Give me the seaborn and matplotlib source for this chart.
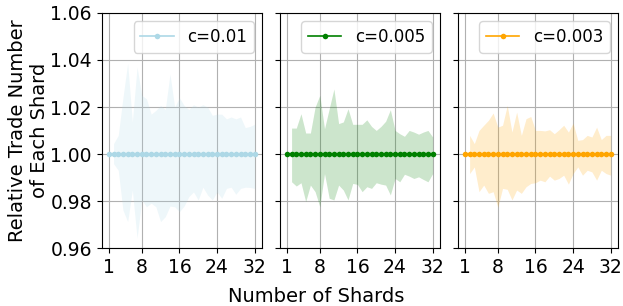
import numpy as np
import matplotlib
matplotlib.use('Agg')
import matplotlib.pyplot as plt
import seaborn as sns

# number of shards on the x axis
shards = list(range(1, 33))

# mean relative trade number (always 1.0 by construction)
mean_val = [1.0, 1.0, 1.0, 1.0, 1.0, 1.0, 1.0, 1.0, 1.0, 1.0, 1.0, 1.0, 1.0, 1.0, 1.0, 1.0,
            1.0, 1.0, 1.0, 1.0, 1.0, 1.0, 1.0, 1.0, 1.0, 1.0, 1.0, 1.0, 1.0, 1.0, 1.0, 1.0]

# band limits, x = 1 has no spread
upper_001 = [np.nan, 1.0045, 1.008, 1.024, 1.0386, 1.0137, 1.037, 1.025, 1.0235, 1.017, 1.0186,
             1.0207, 1.019, 1.034, 1.020, 1.024, 1.0207, 1.019, 1.021, 1.020, 1.021, 1.020,
             1.0165, 1.017, 1.017, 1.015, 1.0158, 1.015, 1.0158, 1.0113, 1.0118, 1.0127]
lower_001 = [np.nan, 0.996, 0.9932, 0.9763, 0.9714, 0.9848, 0.9644, 0.9806, 0.9777, 0.9792, 0.9777,
             0.9714, 0.9735, 0.978, 0.9777, 0.9756, 0.978, 0.982, 0.984, 0.9806, 0.986, 0.9827,
             0.9806, 0.984, 0.9813, 0.9855, 0.986, 0.983, 0.9855, 0.986, 0.9859, 0.9855]

upper_0005 = [np.nan, 1.0111, 1.0111, 1.0172, 1.009, 1.009, 1.020, 1.025, 1.0108, 1.0193, 1.0277,
              1.013, 1.0137, 1.0193, 1.0127, 1.0127, 1.0127, 1.0146, 1.0118, 1.0101, 1.0118, 1.014,
              1.0189, 1.0101, 1.0087, 1.0076, 1.0101, 1.0094, 1.0085, 1.0094, 1.0101, 1.0073]
lower_0005 = [np.nan, 0.9883, 0.9865, 0.9879, 0.9799, 0.9869, 0.9841, 0.9777, 0.9918, 0.9813, 0.9806,
              0.9869, 0.9848, 0.9806, 0.9876, 0.9872, 0.9841, 0.9862, 0.9855, 0.9879, 0.9873, 0.9869,
              0.9827, 0.9897, 0.9883, 0.9915, 0.9907, 0.9897, 0.9904, 0.9893, 0.9883, 0.9918]

upper_0003 = [np.nan, 1.008, 1.0045, 1.0101, 1.0123, 1.0144, 1.0175, 1.0115, 1.0123, 1.0207, 1.0094,
              1.0179, 1.008, 1.0151, 1.016, 1.0101, 1.0101, 1.0099, 1.0104, 1.0087, 1.0104, 1.0123,
              1.0094, 1.0132, 1.0059, 1.0062, 1.008, 1.0073, 1.0115, 1.0062, 1.008, 1.008]
lower_0003 = [np.nan, 0.9918, 0.9946, 0.9841, 0.9869, 0.9834, 0.9841, 0.9775, 0.9855, 0.9851, 0.9806,
              0.9848, 0.9834, 0.9862, 0.9876, 0.9879, 0.989, 0.9883, 0.9907, 0.989, 0.9897, 0.9911,
              0.9873, 0.9918, 0.9946, 0.9911, 0.9932, 0.9925, 0.989, 0.9932, 0.9918, 0.9911]

labels = ['c=0.01', 'c=0.005', 'c=0.003']
colors = ['lightblue', 'green', 'orange']
uppers = [upper_001, upper_0005, upper_0003]
lowers = [lower_001, lower_0005, lower_0003]

x_ticks = [1, 8, 16, 24, 32]
y_ticks = [0.96, 0.98, 1.00, 1.02, 1.04, 1.06]

fs = 13.5

fig, axes = plt.subplots(1, 3, figsize=(6.23, 3.06), dpi=100, sharey=True)
fig.subplots_adjust(left=0.163, right=0.992, top=0.958, bottom=0.188, wspace=0.11)

for ax, lab, col, up, lo in zip(axes, labels, colors, uppers, lowers):
    ax.fill_between(shards, lo, up, color=col, alpha=0.2, linewidth=0)
    sns.lineplot(x=shards, y=mean_val, ax=ax, color=col, marker='o', markersize=4,
                 markeredgewidth=0, linewidth=1.2, label=lab)
    ax.grid(True, color='#b0b0b0', linewidth=0.8)
    ax.set_axisbelow(True)
    ax.set_xticks(x_ticks)
    ax.tick_params(labelsize=fs)
    ax.legend(loc='upper right', fontsize=12)
    ax.set_xlabel('')

axes[0].set_ylim(0.96, 1.06)
axes[0].set_yticks(y_ticks)
axes[0].set_yticklabels([f'{v:.2f}' for v in y_ticks])
axes[0].set_ylabel('Relative Trade Number\nof Each Shard', fontsize=14, labelpad=1)
for ax in axes[1:]:
    ax.tick_params(axis='y', labelleft=False)

fig.text(0.507, 0.012, 'Number of Shards', ha='center', va='baseline', fontsize=14)

plt.savefig('out.png', dpi=100)
